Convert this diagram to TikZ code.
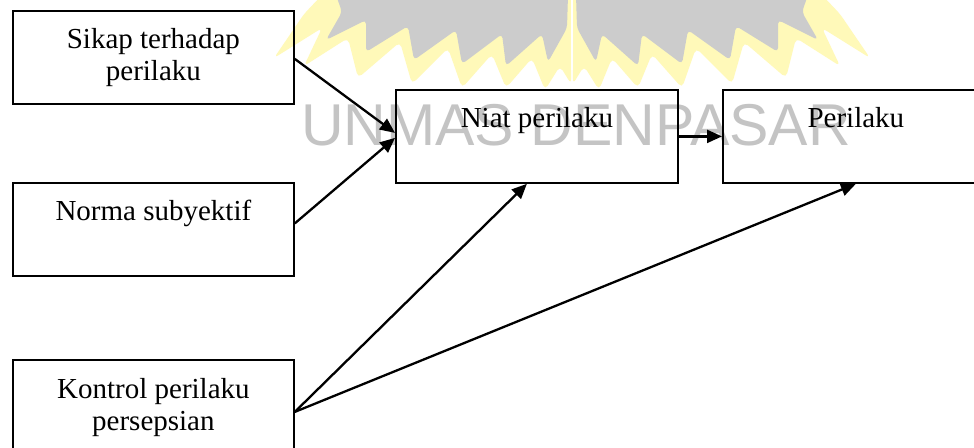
\documentclass[tikz,border=0pt]{standalone}
\usepackage{fontspec}
\setmainfont{Liberation Serif}
\newfontfamily\wmfont{Liberation Sans}
\usetikzlibrary{arrows.meta,positioning,calc}
\definecolor{wmgray}{RGB}{196,196,196}
\definecolor{wmyellow}{RGB}{255,249,185}
\definecolor{logogray}{RGB}{204,204,204}
\tikzset{
  boxnode/.style={draw=black, line width=1.8pt, inner sep=0pt, minimum width=281pt, minimum height=93pt, anchor=north west},
  labeltext/.style={font=\fontsize{29}{32}\selectfont, align=center, inner sep=0pt, anchor=north},
  arrowline/.style={draw=black, line width=2.3pt, -{Triangle[length=15pt,width=13pt]}},
  yellowflame/.style={fill=wmyellow, draw=none, rounded corners=5pt},
  grayflame/.style={fill=logogray, draw=none, rounded corners=4pt}
}
\begin{document}
\begin{tikzpicture}[x=1pt,y=-1pt]
\useasboundingbox (0,0) rectangle (974,447);
\clip (0,0) rectangle (974,447);
\fill[white] (0,0) rectangle (974,447);
% watermark logo (left half and mirrored right half)
\foreach \s in {1,-1}{
\begin{scope}[shift={(572,0)}, xscale=\s]
\path[yellowflame] (0,-5) -- (-1,84) -- (-12,66) -- (-27,90) -- (-40,58) -- (-66,88) -- (-80,54) -- (-110,88) -- (-124,48) -- (-160,84) -- (-172,42) -- (-214,78) -- (-224,38) -- (-268,66) -- (-250,28) -- (-298,58) -- (-268,14) -- (-250,-5) -- cycle;
\path[grayflame] (-4,-5) -- (-5,28) -- (-24,62) -- (-30,34) -- (-66,66) -- (-70,34) -- (-110,64) -- (-116,30) -- (-158,60) -- (-164,26) -- (-206,52) -- (-206,20) -- (-246,40) -- (-230,12) -- (-236,-5) -- cycle;
\end{scope}
}
\draw[white, line width=2pt] (572,-5) -- (572,70);
\node[font=\wmfont\fontsize{59}{59}\selectfont, text=wmgray, anchor=base, inner sep=0pt] (wm) at (576,145) {UNMAS DENPASAR};
% boxes
\node[boxnode] (sikap) at (12,10) {};
\node[boxnode] (norma) at (12,182) {};
\node[boxnode, minimum height=104pt] (kontrol) at (12,359) {};
\node[boxnode, minimum width=282pt] (niat) at (395,89) {};
\node[boxnode, minimum width=266pt] (perilaku) at (722,89) {};
% texts
\node[labeltext] (tsikap) at ([yshift=-18pt]sikap.north) {Sikap terhadap\\perilaku};
\node[labeltext] (tnorma) at ([yshift=-18pt]norma.north) {Norma subyektif};
\node[labeltext] (tkontrol) at ([yshift=-19pt]kontrol.north) {Kontrol perilaku\\persepsian};
\node[labeltext] (tniat) at ([yshift=-18pt]niat.north) {Niat perilaku};
\node[labeltext] (tperilaku) at ([yshift=-18pt]perilaku.north) {Perilaku};
% connectors
\draw[arrowline] ([yshift=-1.5pt]sikap.east) -- ([yshift=3.5pt]niat.west);
\draw[arrowline] ([yshift=6pt]norma.east) -- ([yshift=-1.5pt]niat.west);
\draw[arrowline] (kontrol.east) -- ([xshift=-10pt]niat.south);
\draw[arrowline] (kontrol.east) -- (perilaku.south);
\draw[arrowline] (niat.east) -- (perilaku.west);
\end{tikzpicture}
\end{document}
